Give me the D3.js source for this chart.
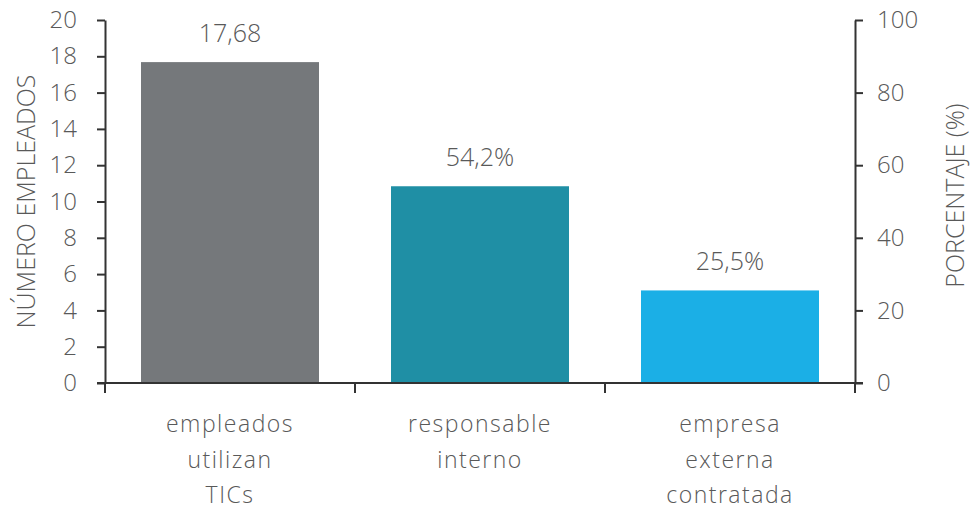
<!DOCTYPE html>
<html>
<head>
<meta charset="utf-8">
<script src="https://cdn.jsdelivr.net/npm/d3@7"></script>
<style>
  html, body { margin: 0; padding: 0; background: #fff; }
  svg text { font-family: "Open Sans", sans-serif; font-weight: 300; fill: #595959; }
</style>
</head>
<body>
<svg id="chart" width="973" height="512"></svg>
<script>
// Categories (multi-line labels) and values
const categories = ["empleados utilizan TICs", "responsable interno", "empresa externa contratada"];
const categoryLines = [["empleados", "utilizan", "TICs"], ["responsable", "interno"], ["empresa", "externa", "contratada"]];
const values = [17.68, 54.2, 25.5];
const valueLabels = ["17,68", "54,2%", "25,5%"];
const axisSide = ["left", "right", "right"]; // which y-axis each bar is read against
const barColors = ["#75787b", "#1f8fa5", "#1bafe6"];
const leftTicks = [0, 2, 4, 6, 8, 10, 12, 14, 16, 18, 20];
const rightTicks = [0, 20, 40, 60, 80, 100];

const svg = d3.select("#chart");
const m = { left: 105, right: 118, top: 20, bottom: 129 };
const W = 973, H = 512;
const x0 = m.left, x1 = W - m.right, y0 = H - m.bottom, y1 = m.top;

const x = d3.scaleBand().domain(categories).range([x0, x1]).paddingInner(0.288).paddingOuter(0.144);
const xb = d3.scaleBand().domain(categories).range([x0, x1]);
const yL = d3.scaleLinear().domain([0, 20]).range([y0, y1]);
const yR = d3.scaleLinear().domain([0, 100]).range([y0, y1]);
const yFor = i => axisSide[i] === "left" ? yL : yR;

// Bars
svg.append("g").selectAll("rect").data(values).join("rect")
  .attr("x", (d, i) => x(categories[i]))
  .attr("width", x.bandwidth())
  .attr("y", (d, i) => yFor(i)(d))
  .attr("height", (d, i) => y0 - yFor(i)(d))
  .attr("fill", (d, i) => barColors[i]);

// Value labels
svg.append("g").selectAll("text").data(values).join("text")
  .attr("x", (d, i) => x(categories[i]) + x.bandwidth() / 2)
  .attr("y", (d, i) => yFor(i)(d) - 20)
  .attr("text-anchor", "middle")
  .style("font-size", "25px")
  .text((d, i) => valueLabels[i]);

const axisColor = "#333";
function styleAxis(g) {
  g.selectAll(".domain").attr("stroke", axisColor).attr("stroke-width", 2);
  g.selectAll(".tick line").attr("stroke", axisColor).attr("stroke-width", 2);
  g.selectAll(".tick text").style("font-size", "24px").attr("fill", "#595959");
}

// Left axis
svg.append("g").attr("transform", `translate(${x0},0)`)
  .call(d3.axisLeft(yL).tickValues(leftTicks).tickSize(8).tickPadding(20).tickSizeOuter(0))
  .call(styleAxis);

// Right axis
svg.append("g").attr("transform", `translate(${x1},0)`)
  .call(d3.axisRight(yR).tickValues(rightTicks).tickSize(8).tickPadding(14).tickSizeOuter(0))
  .call(styleAxis);

// Bottom axis: band boundaries as ticks
const boundaries = categories.map(c => xb(c)).concat([x1]);
const gb = svg.append("g");
gb.append("line").attr("x1", x0 - 8).attr("x2", x1 + 8).attr("y1", y0).attr("y2", y0)
  .attr("stroke", axisColor).attr("stroke-width", 2);
gb.selectAll("line.t").data(boundaries).join("line").attr("class", "t")
  .attr("x1", d => d).attr("x2", d => d).attr("y1", y0).attr("y2", y0 + 10)
  .attr("stroke", axisColor).attr("stroke-width", 2);

// Category labels
const cl = svg.append("g").selectAll("text").data(categoryLines).join("text")
  .attr("text-anchor", "middle")
  .style("font-size", "23px")
  .style("letter-spacing", "1.5px")
  .attr("transform", (d, i) => `translate(${xb(categories[i]) + xb.bandwidth() / 2},${y0 + 49})`);
cl.selectAll("tspan").data(d => d).join("tspan")
  .attr("x", 0).attr("y", (d, j) => j * 35.5).text(d => d);

// Axis titles
svg.append("text").attr("transform", `translate(35,${(y0 + y1) / 2}) rotate(-90)`)
  .attr("text-anchor", "middle").style("font-size", "25px").text("NÚMERO EMPLEADOS");
svg.append("text").attr("transform", `translate(964,${(y0 + y1) / 2 - 6}) rotate(-90)`)
  .attr("text-anchor", "middle").style("font-size", "25px").text("PORCENTAJE (%)");
</script>
</body>
</html>
